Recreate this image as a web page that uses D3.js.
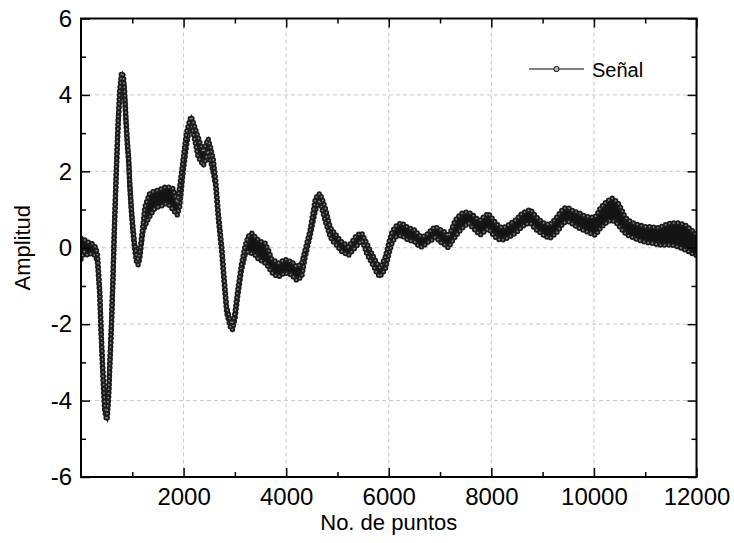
<!DOCTYPE html>
<html>
<head>
<meta charset="utf-8">
<script src="https://cdn.jsdelivr.net/npm/d3@7"></script>
<style>
    body { margin: 0; background: #ffffff; }
    svg { display: block; }
    text { font-family: "Liberation Sans", Arial, sans-serif; fill: #000; }
</style>
</head>
<body>
<div id="chart"></div>
<script>

/* Data (lower / upper edge of the noisy band) */

var puntos = [0, 60, 130, 200, 270, 320, 365, 400, 430, 460, 490, 510, 540, 560, 592, 624, 656, 689, 721, 754, 787, 806, 828, 851, 877, 904, 930, 949, 982, 1014, 1047, 1079, 1112, 1144, 1177, 1209, 1242, 1290, 1339, 1420, 1502, 1580, 1664, 1730, 1794, 1878, 1924, 1989, 2054, 2119, 2151, 2217, 2282, 2385, 2430, 2480, 2530, 2580, 2625, 2680, 2745, 2795, 2840, 2905, 2950, 3000, 3055, 3130, 3200, 3260, 3330, 3400, 3460, 3530, 3590, 3650, 3720, 3790, 3850, 3920, 3980, 4050, 4110, 4160, 4205, 4260, 4305, 4370, 4465, 4565, 4610, 4660, 4710, 4760, 4810, 4855, 4900, 4950, 5020, 5085, 5150, 5215, 5280, 5345, 5410, 5475, 5520, 5570, 5620, 5670, 5720, 5765, 5830, 5880, 5930, 5970, 6005, 6060, 6125, 6190, 6250, 6320, 6380, 6450, 6510, 6580, 6640, 6710, 6770, 6840, 6900, 6970, 7030, 7100, 7160, 7230, 7295, 7360, 7425, 7490, 7555, 7620, 7685, 7730, 7780, 7860, 7945, 8010, 8075, 8140, 8205, 8270, 8335, 8400, 8465, 8530, 8595, 8680, 8760, 8820, 8885, 8950, 9015, 9080, 9145, 9210, 9275, 9340, 9405, 9470, 9535, 9600, 9665, 9730, 9795, 9860, 9925, 10020, 10070, 10120, 10180, 10240, 10300, 10350, 10410, 10475, 10540, 10610, 10670, 10740, 10800, 10870, 10930, 11000, 11060, 11130, 11200, 11260, 11330, 11390, 11450, 11520, 11580, 11650, 11720, 11780, 11850, 11910, 11960, 12000];

var senalMin = [-0.30, -0.10, -0.20, -0.15, -0.20, -0.35, -1.25, -2.55, -3.45, -4.25, -4.45, -4.50, -3.90, -3.20, -2.15, -0.85, 0.65, 1.95, 3.10, 3.95, 4.42, 4.45, 4.35, 3.95, 3.25, 2.65, 2.22, 1.62, 0.92, 0.38, -0.05, -0.35, -0.45, -0.30, 0.08, 0.42, 0.55, 0.70, 0.81, 1.00, 1.07, 1.10, 1.16, 1.10, 0.99, 0.86, 1.07, 1.95, 2.64, 3.17, 3.26, 2.82, 2.38, 2.15, 2.30, 2.55, 2.25, 1.95, 1.62, 0.72, -0.14, -1.00, -1.70, -2.05, -2.15, -1.88, -1.28, -0.58, -0.18, -0.10, -0.15, -0.20, -0.30, -0.35, -0.40, -0.50, -0.65, -0.72, -0.76, -0.70, -0.65, -0.70, -0.70, -0.80, -0.85, -0.80, -0.75, -0.25, 0.30, 0.95, 1.15, 1.25, 0.95, 0.70, 0.50, 0.30, 0.18, 0.12, 0.00, -0.10, -0.15, -0.20, -0.10, 0.00, 0.10, 0.20, 0.05, -0.15, -0.28, -0.40, -0.52, -0.66, -0.76, -0.65, -0.58, -0.35, -0.15, 0.10, 0.28, 0.30, 0.33, 0.25, 0.20, 0.18, 0.15, 0.05, 0.02, 0.08, 0.15, 0.20, 0.28, 0.20, 0.12, 0.07, 0.00, 0.15, 0.28, 0.40, 0.50, 0.58, 0.65, 0.55, 0.46, 0.40, 0.33, 0.42, 0.50, 0.38, 0.28, 0.22, 0.20, 0.22, 0.28, 0.32, 0.38, 0.45, 0.55, 0.62, 0.65, 0.55, 0.46, 0.40, 0.33, 0.28, 0.25, 0.32, 0.40, 0.52, 0.65, 0.68, 0.68, 0.60, 0.55, 0.50, 0.46, 0.42, 0.38, 0.33, 0.40, 0.50, 0.58, 0.65, 0.70, 0.72, 0.68, 0.60, 0.48, 0.38, 0.32, 0.28, 0.24, 0.20, 0.18, 0.15, 0.13, 0.12, 0.10, 0.07, 0.07, 0.07, 0.07, 0.07, 0.05, 0.02, -0.02, -0.06, -0.10, -0.15, -0.18, -0.20];

var senalMax = [0.25, 0.22, 0.15, 0.12, 0.05, -0.15, -1.10, -2.40, -3.30, -4.10, -4.30, -4.35, -3.75, -3.05, -2.00, -0.70, 0.80, 2.10, 3.25, 4.10, 4.55, 4.58, 4.48, 4.10, 3.40, 2.80, 2.37, 1.77, 1.07, 0.53, 0.10, -0.20, -0.30, -0.15, 0.24, 0.60, 1.05, 1.25, 1.42, 1.48, 1.51, 1.55, 1.60, 1.58, 1.55, 1.17, 1.60, 2.30, 3.00, 3.34, 3.43, 3.17, 2.90, 2.50, 2.70, 2.85, 2.60, 2.30, 1.78, 0.88, 0.02, -0.85, -1.55, -1.90, -2.00, -1.72, -1.12, -0.42, 0.05, 0.30, 0.38, 0.28, 0.20, 0.15, 0.12, -0.05, -0.30, -0.35, -0.40, -0.35, -0.30, -0.35, -0.35, -0.45, -0.50, -0.45, -0.40, -0.05, 0.45, 1.25, 1.38, 1.42, 1.25, 1.05, 0.80, 0.55, 0.45, 0.38, 0.25, 0.15, 0.10, 0.02, 0.15, 0.28, 0.35, 0.38, 0.25, 0.12, -0.02, -0.15, -0.28, -0.40, -0.53, -0.40, -0.25, -0.05, 0.15, 0.40, 0.55, 0.62, 0.65, 0.58, 0.52, 0.50, 0.46, 0.35, 0.28, 0.32, 0.38, 0.48, 0.55, 0.50, 0.46, 0.41, 0.30, 0.50, 0.72, 0.82, 0.90, 0.93, 0.93, 0.88, 0.80, 0.75, 0.72, 0.82, 0.90, 0.78, 0.67, 0.58, 0.52, 0.55, 0.60, 0.66, 0.72, 0.80, 0.90, 0.96, 1.00, 0.90, 0.80, 0.72, 0.65, 0.62, 0.60, 0.70, 0.80, 0.92, 1.03, 1.05, 1.03, 0.95, 0.93, 0.90, 0.85, 0.82, 0.80, 0.80, 0.90, 1.03, 1.12, 1.20, 1.26, 1.30, 1.25, 1.17, 1.00, 0.80, 0.72, 0.67, 0.63, 0.60, 0.58, 0.55, 0.55, 0.55, 0.53, 0.52, 0.56, 0.60, 0.63, 0.65, 0.65, 0.65, 0.62, 0.60, 0.52, 0.46, 0.40, 0.33];

var xTicks      = [2000, 4000, 6000, 8000, 10000, 12000];
var xMinorTicks = [1000, 3000, 5000, 7000, 9000, 11000];
var yTicks      = [-6, -4, -2, 0, 2, 4, 6];
var yMinorTicks = [-5, -3, -1, 1, 3, 5];
var xGrid       = [2000, 4000, 6000, 8000, 10000];
var yGrid       = [-4, -2, 0, 2, 4];

var xLabel      = "No. de puntos";
var yLabel      = "Amplitud";
var serieNombre = "Señal";

/* Dimensions */

var width   = 734,
    height  = 543,
    margin  = {top: 18.5, right: 37.5, bottom: 66, left: 81},
    innerW  = width - margin.left - margin.right,
    innerH  = height - margin.top - margin.bottom;

var svg = d3.select("#chart").append("svg")
    .attr("width", width)
    .attr("height", height);

var g = svg.append("g")
    .attr("transform", "translate(" + margin.left + "," + margin.top + ")");

// Scales
var x = d3.scaleLinear().domain([0, 12000]).range([0, innerW]);
var y = d3.scaleLinear().domain([-6, 6]).range([innerH, 0]);

/* Grid */

g.append("g").selectAll("line").data(xGrid).enter().append("line")
    .attr("x1", function (d) { return x(d); })
    .attr("x2", function (d) { return x(d); })
    .attr("y1", 0).attr("y2", innerH)
    .attr("stroke", "#c8c8c8").attr("stroke-width", 1).attr("stroke-dasharray", "4,3");

g.append("g").selectAll("line").data(yGrid).enter().append("line")
    .attr("y1", function (d) { return y(d); })
    .attr("y2", function (d) { return y(d); })
    .attr("x1", 0).attr("x2", innerW)
    .attr("stroke", "#c8c8c8").attr("stroke-width", 1).attr("stroke-dasharray", "4,3");

/* Signal */

g.append("clipPath").attr("id", "clip").append("rect")
    .attr("width", innerW).attr("height", innerH);

var plot = g.append("g").attr("clip-path", "url(#clip)");

var band = d3.area()
    .x(function (d, i) { return x(puntos[i]); })
    .y0(function (d, i) { return y(senalMin[i]); })
    .y1(function (d, i) { return y(senalMax[i]); });

plot.append("path")
    .datum(puntos)
    .attr("d", band)
    .attr("fill", "#141414")
    .attr("stroke", "#141414")
    .attr("stroke-width", 2);

// edge lines drawn as chains of hollow markers
function edge(values) {
    return d3.line()
        .x(function (d, i) { return x(puntos[i]); })
        .y(function (d, i) { return y(values[i]); })(puntos);
}

[senalMin, senalMax].forEach(function (values) {
    plot.append("path")
        .attr("d", edge(values))
        .attr("fill", "none")
        .attr("stroke", "#1c1c1c")
        .attr("stroke-width", 5.4)
        .attr("stroke-linecap", "round")
        .attr("stroke-dasharray", "0,4.2");
    plot.append("path")
        .attr("d", edge(values))
        .attr("fill", "none")
        .attr("stroke", "#858585")
        .attr("stroke-width", 1.8)
        .attr("stroke-linecap", "round")
        .attr("stroke-dasharray", "0,4.2");
});

/* Axes */

function styleAxis(sel) {
    sel.select(".domain").remove();
    sel.selectAll(".tick line").attr("stroke", "#000").attr("stroke-width", 1.5);
    sel.selectAll(".tick text").style("font-size", "24px").attr("fill", "#000");
}

var fmt = function (d) { return String(d); };

// bottom
g.append("g").attr("transform", "translate(0," + innerH + ")")
    .call(d3.axisBottom(x).tickValues(xTicks).tickFormat(fmt).tickSizeInner(-9).tickSizeOuter(0).tickPadding(11))
    .call(styleAxis);
g.append("g").attr("transform", "translate(0," + innerH + ")")
    .call(d3.axisBottom(x).tickValues(xMinorTicks).tickFormat("").tickSizeInner(-5).tickSizeOuter(0))
    .call(styleAxis);

// top (mirror)
g.append("g")
    .call(d3.axisTop(x).tickValues(xTicks).tickFormat("").tickSizeInner(-9).tickSizeOuter(0))
    .call(styleAxis);
g.append("g")
    .call(d3.axisTop(x).tickValues(xMinorTicks).tickFormat("").tickSizeInner(-5).tickSizeOuter(0))
    .call(styleAxis);

// left
g.append("g")
    .call(d3.axisLeft(y).tickValues(yTicks).tickFormat(fmt).tickSizeInner(-9).tickSizeOuter(0).tickPadding(9))
    .call(styleAxis);
g.append("g")
    .call(d3.axisLeft(y).tickValues(yMinorTicks).tickFormat("").tickSizeInner(-5).tickSizeOuter(0))
    .call(styleAxis);

// right (mirror)
g.append("g").attr("transform", "translate(" + innerW + ",0)")
    .call(d3.axisRight(y).tickValues(yTicks).tickFormat("").tickSizeInner(-9).tickSizeOuter(0))
    .call(styleAxis);
g.append("g").attr("transform", "translate(" + innerW + ",0)")
    .call(d3.axisRight(y).tickValues(yMinorTicks).tickFormat("").tickSizeInner(-5).tickSizeOuter(0))
    .call(styleAxis);

// frame
g.append("rect")
    .attr("width", innerW).attr("height", innerH)
    .attr("fill", "none").attr("stroke", "#000").attr("stroke-width", 2);

/* Titles */

svg.append("text")
    .attr("x", margin.left + innerW / 2).attr("y", 530)
    .attr("text-anchor", "middle")
    .style("font-size", "22px")
    .text(xLabel);

svg.append("text")
    .attr("transform", "translate(30," + (margin.top + innerH / 2) + ") rotate(-90)")
    .attr("text-anchor", "middle")
    .style("font-size", "22px")
    .text(yLabel);

/* Legend */

var legend = svg.append("g").attr("transform", "translate(529,69)");
legend.append("line")
    .attr("x1", 0).attr("x2", 55).attr("y1", 0).attr("y2", 0)
    .attr("stroke", "#555").attr("stroke-width", 1.5);
legend.append("circle")
    .attr("cx", 27.5).attr("cy", 0).attr("r", 2.5)
    .attr("fill", "#bbb").attr("stroke", "#333").attr("stroke-width", 1.2);
legend.append("text")
    .attr("x", 63).attr("y", 7.5)
    .style("font-size", "20px")
    .text(serieNombre);

</script>
</body>
</html>
